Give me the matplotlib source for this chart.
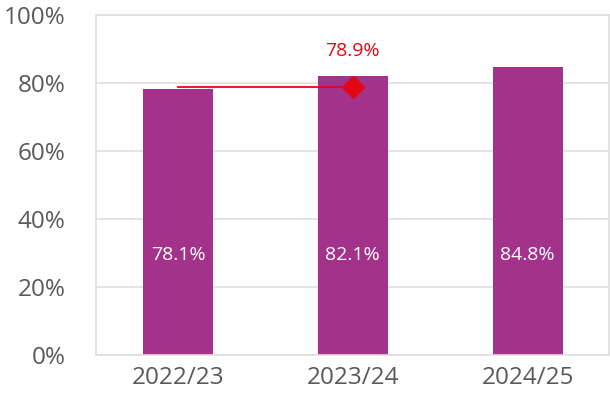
import matplotlib
matplotlib.use("Agg")
import matplotlib.pyplot as plt
import numpy as np

categories = ["2022/23", "2023/24", "2024/25"]
bar_values = [78.1, 82.1, 84.8]
bar_labels = ["78.1%", "82.1%", "84.8%"]
target_values = [78.9, 78.9, np.nan]
target_label = "78.9%"
y_ticks = [0, 20, 40, 60, 80, 100]
y_tick_labels = ["0%", "20%", "40%", "60%", "80%", "100%"]

plt.rcParams['font.family'] = ['Open Sans', 'DejaVu Sans']

fig = plt.figure(figsize=(6.10, 3.98), dpi=100)
ax = fig.add_axes([96/610, 1-355/398, 513/610, 340/398])

x = np.arange(len(categories))
bar_color = "#a3328a"
red = "#e30613"
grid_c = "#dedede"
text_c = "#595959"

ax.bar(x, bar_values, width=0.40, color=bar_color, zorder=2)
ax.plot(x, target_values, color=red, lw=1.3, zorder=3)
ax.plot(x[1], target_values[1], marker="D", ms=11, color=red, zorder=4, lw=0)

for xi, lab in zip(x, bar_labels):
    ax.text(xi, 29.5, lab, ha="center", va="center", color="white", fontsize=14, zorder=5)
ax.text(x[1], 89.5, target_label, ha="center", va="center", color=red, fontsize=14, zorder=5)

ax.set_ylim(0, 100)
ax.set_xlim(-0.47, 2.466)
ax.set_yticks(y_ticks)
ax.set_yticklabels(y_tick_labels)
ax.set_xticks(x)
ax.set_xticklabels(categories)
ax.tick_params(axis="both", length=0, labelsize=17.5, colors=text_c)
ax.tick_params(axis="y", pad=22)
ax.tick_params(axis="x", pad=8)
ax.yaxis.grid(True, color=grid_c, lw=1.2, zorder=0)
ax.set_axisbelow(True)
for s in ax.spines.values():
    s.set_color(grid_c)
    s.set_linewidth(1.2)

fig.savefig("out.png", dpi=100)
